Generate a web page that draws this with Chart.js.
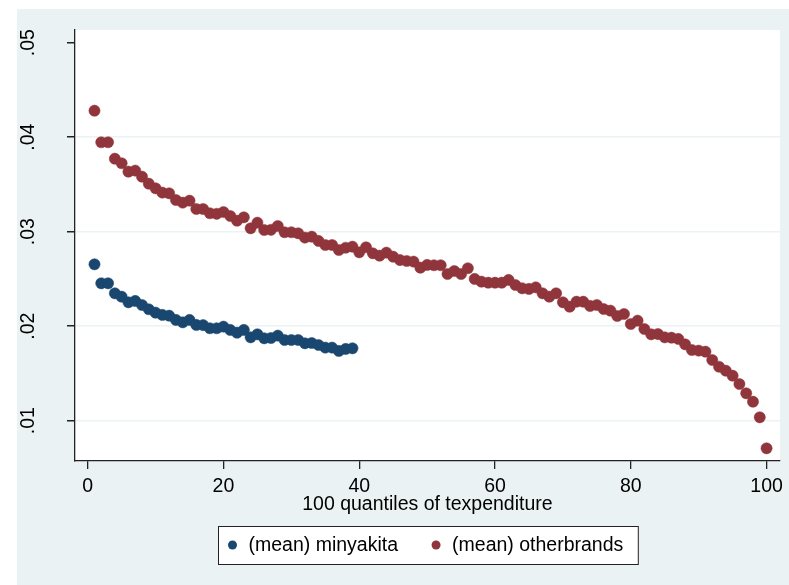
<!DOCTYPE html>
<html>
<head>
<meta charset="utf-8">
<script src="https://cdn.jsdelivr.net/npm/chart.js@4/dist/chart.umd.min.js"></script>
<style>
html, body { margin: 0; padding: 0; background: #fff; }
#wrap { width: 789px; height: 585px; }
</style>
</head>
<body>
<div id="wrap"><canvas id="myChart" width="789" height="585"></canvas></div>
<script>
// data
var quantiles = [1, 2, 3, 4, 5, 6, 7, 8, 9, 10, 11, 12, 13, 14, 15, 16, 17, 18, 19, 20,
    21, 22, 23, 24, 25, 26, 27, 28, 29, 30, 31, 32, 33, 34, 35, 36, 37, 38, 39, 40,
    41, 42, 43, 44, 45, 46, 47, 48, 49, 50, 51, 52, 53, 54, 55, 56, 57, 58, 59, 60,
    61, 62, 63, 64, 65, 66, 67, 68, 69, 70, 71, 72, 73, 74, 75, 76, 77, 78, 79, 80,
    81, 82, 83, 84, 85, 86, 87, 88, 89, 90, 91, 92, 93, 94, 95, 96, 97, 98, 99, 100];

var minyakita = [0.02655, 0.02454, 0.02454, 0.02348, 0.02312, 0.02253, 0.02267, 0.02224, 0.02179, 0.02143,
    0.02119, 0.02111, 0.02066, 0.02041, 0.02066, 0.02013, 0.02011, 0.01978, 0.01978, 0.01995,
    0.0196, 0.01931, 0.0196, 0.01882, 0.01914, 0.01872, 0.01875, 0.019, 0.01854, 0.01854,
    0.01854, 0.01819, 0.01822, 0.01801, 0.01773, 0.01773, 0.01738, 0.01759, 0.01766];

var otherbrands = [0.0428, 0.03946, 0.03946, 0.03772, 0.03724, 0.03635, 0.03646, 0.03582, 0.03508, 0.03459,
    0.03413, 0.03406, 0.03335, 0.03307, 0.03328, 0.0324, 0.0324, 0.03195, 0.03189, 0.03208,
    0.03166, 0.03116, 0.03152, 0.03036, 0.03095, 0.03018, 0.0302, 0.0306, 0.02994, 0.02994,
    0.02983, 0.02937, 0.02947, 0.02902, 0.02859, 0.02859, 0.02806, 0.0283, 0.02841, 0.02782,
    0.02835, 0.02771, 0.02746, 0.02778, 0.02735, 0.027, 0.0269, 0.02683, 0.02619, 0.02648,
    0.02645, 0.02645, 0.02552, 0.02584, 0.02552, 0.02613, 0.025, 0.02471, 0.0246, 0.0246,
    0.0246, 0.02489, 0.02436, 0.02401, 0.02394, 0.02411, 0.02348, 0.02312, 0.02348, 0.02253,
    0.02206, 0.02259, 0.02259, 0.02214, 0.02224, 0.02182, 0.02164, 0.02108, 0.02129, 0.02023,
    0.02058, 0.0197, 0.01914, 0.01917, 0.01882, 0.01878, 0.01865, 0.01808, 0.01748, 0.01741,
    0.0173, 0.01642, 0.01571, 0.01529, 0.01476, 0.01388, 0.0129, 0.01201, 0.01036, 0.00708];

var seriesNames = ['(mean) minyakita', '(mean) otherbrands'];
var xTicks = [0, 20, 40, 60, 80, 100];
var yTicks = [0.01, 0.02, 0.03, 0.04, 0.05];
var yTickLabels = ['.01', '.02', '.03', '.04', '.05'];
var xTitle = '100 quantiles of texpenditure';

var FONT = '"Liberation Sans", Arial, sans-serif';
var navy = '#1a476f';
var maroon = '#90353b';
var panel = '#eaf2f3';
var axisCol = '#222';

function toPoints(vals) {
    return vals.map(function (v, i) { return { x: quantiles[i], y: v }; });
}

// stata style background: light panel plus white plot region
var background = {
    id: 'background',
    beforeDraw: function (chart) {
        var c = chart.ctx, a = chart.chartArea;
        c.save();
        c.fillStyle = '#fff';
        c.fillRect(0, 0, chart.width, chart.height);
        c.fillStyle = panel;
        c.fillRect(17, 9, chart.width - 17, chart.height - 9);
        c.fillStyle = '#fff';
        c.fillRect(a.left, a.top, a.right - a.left, a.bottom - a.top);
        c.restore();
    }
};

// rotated y tick labels
var yLabels = {
    id: 'yLabels',
    afterDraw: function (chart) {
        var c = chart.ctx, y = chart.scales.y;
        c.save();
        c.fillStyle = '#000';
        c.font = '19.5px ' + FONT;
        c.textAlign = 'center';
        c.textBaseline = 'alphabetic';
        yTicks.forEach(function (v, i) {
            c.save();
            c.translate(33.5, y.getPixelForValue(v));
            c.rotate(-Math.PI / 2);
            c.fillText(yTickLabels[i], 0, 0);
            c.restore();
        });
        c.restore();
    }
};

// boxed legend under the axis title
var boxLegend = {
    id: 'boxLegend',
    afterDraw: function (chart) {
        var c = chart.ctx, a = chart.chartArea;
        var sets = chart.data.datasets;
        c.save();
        c.font = '19.5px ' + FONT;
        var widths = sets.map(function (d) { return c.measureText(d.label).width; });
        var total = 14 + 16 + widths[0];
        for (var i = 1; i < sets.length; i++) total += 38 + 16 + widths[i];
        total += 15;
        var left = Math.round((a.left + a.right) / 2 - total / 2) + 0.5;
        var top = 526.5, h = 38, mid = 545;
        c.fillStyle = '#fff';
        c.fillRect(left, top, total, h);
        c.strokeStyle = axisCol;
        c.lineWidth = 1;
        c.strokeRect(left, top, total, h);
        var x = left + 14;
        sets.forEach(function (d, i) {
            c.fillStyle = d.backgroundColor;
            c.beginPath();
            c.arc(x, mid, 4.5, 0, Math.PI * 2);
            c.fill();
            c.fillStyle = '#000';
            c.textBaseline = 'middle';
            c.textAlign = 'left';
            c.fillText(d.label, x + 16, mid + 1);
            x += 16 + widths[i] + 38;
        });
        c.restore();
    }
};

var ctx = document.getElementById('myChart').getContext('2d');
var myChart = new Chart(ctx, {
    type: 'scatter',
    data: {
        datasets: [{
            label: seriesNames[0],
            data: toPoints(minyakita),
            backgroundColor: navy,
            borderColor: navy,
            borderWidth: 0.5,
            pointRadius: 5.6
        }, {
            label: seriesNames[1],
            data: toPoints(otherbrands),
            backgroundColor: maroon,
            borderColor: maroon,
            borderWidth: 0.5,
            pointRadius: 5.6
        }]
    },
    options: {
        responsive: false,
        animation: false,
        events: [],
        layout: { padding: { top: 30, right: 9, bottom: 0, left: 0 } },
        plugins: {
            legend: { display: false },
            tooltip: { enabled: false }
        },
        scales: {
            x: {
                type: 'linear',
                min: -1.87,
                max: 101.96,
                afterBuildTicks: function (s) {
                    s.ticks = xTicks.map(function (v) { return { value: v }; });
                },
                afterFit: function (s) { s.height = 124; },
                ticks: {
                    color: '#000',
                    font: { family: FONT, size: 19.5 },
                    padding: 6,
                    maxRotation: 0,
                    autoSkip: false
                },
                grid: {
                    drawOnChartArea: false,
                    tickColor: axisCol,
                    tickLength: 8,
                    lineWidth: 1.3
                },
                border: { color: axisCol, width: 1.3 },
                title: {
                    display: true,
                    text: xTitle,
                    color: '#000',
                    font: { family: FONT, size: 19.5 },
                    padding: { top: 0, bottom: 69 }
                }
            },
            y: {
                type: 'linear',
                min: 0.005735,
                max: 0.05134,
                afterBuildTicks: function (s) {
                    s.ticks = yTicks.map(function (v) { return { value: v }; });
                },
                afterFit: function (s) { s.width = 75; },
                ticks: { display: false },
                grid: {
                    color: function (c) {
                        return c.tick && c.tick.value === 0.05 ? 'rgba(0,0,0,0)' : panel;
                    },
                    lineWidth: 1.5,
                    tickColor: axisCol,
                    tickLength: 8
                },
                border: { color: axisCol, width: 1.3 }
            }
        }
    },
    plugins: [background, yLabels, boxLegend]
});
</script>
</body>
</html>
